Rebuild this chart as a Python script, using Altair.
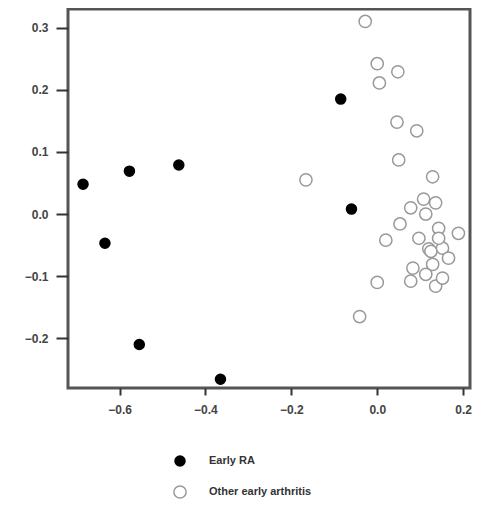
import altair as alt
import pandas as pd

ra_x = [-0.685, -0.577, -0.462, -0.634, -0.554, -0.365, -0.085, -0.060]
ra_y = [0.048, 0.069, 0.079, -0.047, -0.210, -0.266, 0.185, 0.008]

oa_x = [-0.028, 0.000, 0.005, 0.048, 0.046, 0.092, 0.050, -0.166, 0.129,
        -0.041, 0.000, 0.020, 0.053, 0.078, 0.108, 0.136, 0.113, 0.189,
        0.143, 0.097, 0.120, 0.125, 0.152, 0.166, 0.129, 0.083, 0.078,
        0.113, 0.136, 0.152, 0.143]
oa_y = [0.310, 0.242, 0.211, 0.229, 0.148, 0.134, 0.087, 0.055, 0.060,
        -0.165, -0.110, -0.042, -0.016, 0.010, 0.024, 0.018, 0.000, -0.031,
        -0.023, -0.039, -0.056, -0.060, -0.055, -0.071, -0.081, -0.087, -0.108,
        -0.097, -0.116, -0.103, -0.039]

groups = ["Early RA", "Other early arthritis"]

df = pd.DataFrame({
    "x": ra_x + oa_x,
    "y": ra_y + oa_y,
    "group": [groups[0]] * len(ra_x) + [groups[1]] * len(oa_x),
})

legend = alt.Legend(
    title=None, orient="none", legendX=105, legendY=446, direction="vertical",
    labelFontSize=11, labelFont="Liberation Sans", labelColor="#333",
    labelFontWeight="bold", rowPadding=13, labelOffset=22, symbolStrokeWidth=1.5,
    symbolOpacity=1,
)

chart = alt.Chart(df).mark_point(filled=True, strokeWidth=1.5, opacity=1).encode(
    x=alt.X("x:Q", scale=alt.Scale(domain=[-0.72, 0.216], nice=False, zero=False),
            axis=alt.Axis(values=[-0.6, -0.4, -0.2, 0.0, 0.2], format=".1f", title=None,
                          domain=False, grid=False, tickColor="#333", tickSize=7,
                          tickWidth=2, labelFontSize=12, labelFont="Liberation Sans",
                          labelFontWeight="bold", labelColor="#444", labelPadding=9)),
    y=alt.Y("y:Q", scale=alt.Scale(domain=[-0.28, 0.33], nice=False, zero=False),
            axis=alt.Axis(values=[-0.2, -0.1, 0.0, 0.1, 0.2, 0.3], format=".1f", title=None,
                          domain=False, grid=False, tickColor="#333", tickSize=12,
                          tickWidth=2, labelFontSize=12, labelFont="Liberation Sans",
                          labelFontWeight="bold", labelColor="#444", labelPadding=8)),
    fill=alt.Fill("group:N", scale=alt.Scale(domain=groups, range=["black", "white"]),
                  legend=legend),
    stroke=alt.Stroke("group:N", scale=alt.Scale(domain=groups, range=["black", "#999999"]),
                      legend=legend),
    size=alt.Size("group:N", scale=alt.Scale(domain=groups, range=[100, 150]), legend=legend),
    order=alt.Order("group:N", sort="descending"),
).properties(
    width=402, height=379,
    autosize=alt.AutoSizeParams(type="none"),
    padding={"left": 60, "top": 1, "right": 5, "bottom": 120},
).configure_view(
    stroke="#555555", strokeWidth=3
)

chart.save("out.html", embed_options={"renderer": "svg", "actions": False})
